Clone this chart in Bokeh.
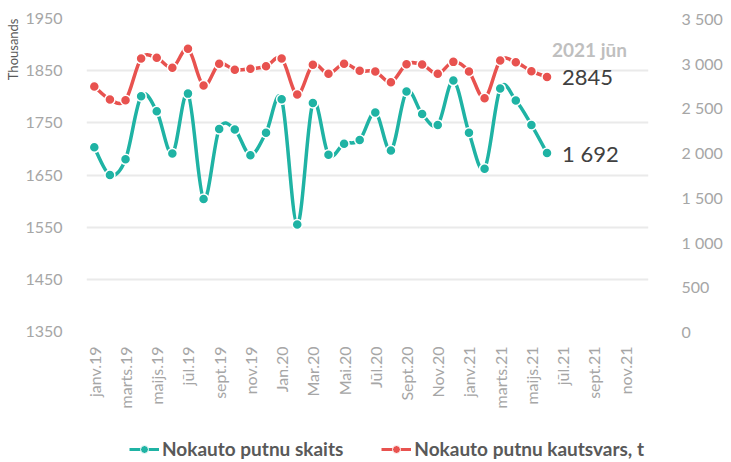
import numpy as np
from bokeh.plotting import figure
from bokeh.layouts import column
from bokeh.models import (Range1d, LinearAxis, FixedTicker, Legend, LegendItem, Label, Title)
from bokeh.embed import file_html
from bokeh.resources import INLINE

# ---- data ----
tick_labels = ["janv.19", "marts.19", "maijs.19", "jūl.19", "sept.19", "nov.19",
               "Jan.20", "Mar.20", "Mai.20", "Jūl.20", "Sept.20", "Nov.20",
               "janv.21", "marts.21", "maijs.21", "jūl.21", "sept.21", "nov.21"]
n_months_axis = 36  # janv.19 .. dec.21
birds_thousands = [1703, 1650, 1680, 1801, 1772, 1691, 1806, 1604, 1738, 1737,
                   1688, 1731, 1795, 1555, 1788, 1689, 1710, 1717, 1770, 1697,
                   1810, 1767, 1746, 1831, 1731, 1662, 1816, 1793, 1746, 1692]
weight_t = [2739, 2594, 2586, 3052, 3060, 2948, 3161, 2750, 2993, 2926,
            2937, 2966, 3052, 2650, 2982, 2881, 2993, 2915, 2907, 2787,
            2989, 2985, 2881, 3015, 2907, 2608, 3030, 3011, 2911, 2845]
left_ticks = [1350, 1450, 1550, 1650, 1750, 1850, 1950]
right_ticks = [0, 500, 1000, 1500, 2000, 2500, 3000, 3500]
right_tick_labels = ["0", "500", "1 000", "1 500", "2 000", "2 500", "3 000", "3 500"]
last_label = "2021 jūn"
birds_last_text = "1 692"
weight_last_text = "2845"
series_names = ["Nokauto putnu skaits", "Nokauto putnu kautsvars, t"]

TEAL = "#1FB3A4"
RED = "#E8524F"
FONT = "Lato"
W = 725
BL, BR = 85, 70

x = list(range(len(birds_thousands)))


def smooth_segments(xs, ys):
    """Bezier segments through every data point (Excel-style smoothed line)."""
    xs = np.asarray(xs, float)
    ys = np.asarray(ys, float)
    n = len(xs)
    xp = np.concatenate([[xs[0]], xs, [xs[-1]]])
    yp = np.concatenate([[ys[0]], ys, [ys[-1]]])
    i = np.arange(n - 1) + 1
    return dict(x0=xp[i], y0=yp[i], x1=xp[i + 1], y1=yp[i + 1],
                cx0=xp[i] + (xp[i + 1] - xp[i - 1]) / 6,
                cy0=yp[i] + (yp[i + 1] - yp[i - 1]) / 6,
                cx1=xp[i + 1] - (xp[i + 2] - xp[i]) / 6,
                cy1=yp[i + 1] - (yp[i + 2] - yp[i]) / 6)


p = figure(width=W, height=420, output_backend="svg", toolbar_location=None,
           x_range=Range1d(-0.5, n_months_axis - 0.5),
           y_range=Range1d(left_ticks[0], left_ticks[-1]),
           min_border_left=BL, min_border_right=BR, min_border_top=18,
           min_border_bottom=420 - 331)
p.outline_line_color = None
p.background_fill_color = "white"
p.border_fill_color = "white"

p.extra_y_ranges = {"w": Range1d(right_ticks[0], right_ticks[-1])}

# grid
p.xgrid.grid_line_color = None
p.ygrid.grid_line_color = "#EAEAEA"
p.ygrid.grid_line_width = 2
p.yaxis.ticker = FixedTicker(ticks=left_ticks)

# left axis
ya = p.yaxis[0]
ya.axis_line_color = None
ya.major_tick_line_color = None
ya.minor_tick_line_color = None
ya.major_label_text_font = FONT
ya.major_label_text_font_size = "16px"
ya.major_label_text_color = "#A6A6A6"
ya.major_label_standoff = 18

# right axis
ra = LinearAxis(y_range_name="w", ticker=FixedTicker(ticks=right_ticks))
ra.major_label_overrides = {t: l for t, l in zip(right_ticks, right_tick_labels)}
ra.axis_line_color = None
ra.major_tick_line_color = None
ra.minor_tick_line_color = None
ra.major_label_text_font = FONT
ra.major_label_text_font_size = "16px"
ra.major_label_text_color = "#A6A6A6"
ra.major_label_standoff = 27
p.add_layout(ra, "right")

# "Thousands" unit label at the top of the left side
p.add_layout(Title(text="Thousands", align="right", text_font=FONT, text_font_size="13px",
                   text_font_style="normal", text_color="#595959", standoff=4), "left")

# x axis
xa = p.xaxis[0]
xt = list(range(0, n_months_axis - 1, 2))
xa.ticker = FixedTicker(ticks=xt)
xa.major_label_overrides = {t: l for t, l in zip(xt, tick_labels)}
xa.major_label_orientation = np.pi / 2
xa.axis_line_color = None
xa.major_tick_line_color = None
xa.minor_tick_line_color = None
xa.major_label_text_font = FONT
xa.major_label_text_font_size = "16px"
xa.major_label_text_color = "#A6A6A6"
xa.major_label_standoff = 9

# series (smoothed lines through the data points, plus markers)
sb = smooth_segments(x, birds_thousands)
p.bezier(line_color=TEAL, line_width=3.5, **sb)
p.scatter(x, birds_thousands, size=10, fill_color=TEAL, line_color="white", line_width=1.5)
sw = smooth_segments(x, weight_t)
p.bezier(line_color=RED, line_width=3.5, y_range_name="w", **sw)
p.scatter(x, weight_t, size=10, fill_color=RED, line_color="white", line_width=1.5, y_range_name="w")

# labels
p.add_layout(Label(x=x[-1], y=birds_thousands[-1], text=birds_last_text, x_offset=15,
                   text_baseline="middle", text_font=FONT, text_font_size="22px",
                   text_color="#404040"))
p.add_layout(Label(x=x[-1], y=weight_t[-1], text=weight_last_text, x_offset=15, y_range_name="w",
                   text_baseline="middle", text_font=FONT, text_font_size="22px",
                   text_color="#404040"))
p.add_layout(Label(x=x[-1], y=3153, text=last_label, x_offset=5, y_range_name="w",
                   text_baseline="middle", text_font=FONT, text_font_size="19px",
                   text_font_style="bold", text_color="#BFBFBF"))

# ---- legend strip (same frame as the chart) ----
lg = figure(width=W, height=40, output_backend="svg", toolbar_location=None,
            x_range=Range1d(0, 1), y_range=Range1d(0, 1),
            x_axis_location=None, y_axis_location=None,
            min_border_left=BL, min_border_right=BR, min_border_top=0, min_border_bottom=0)
lg.grid.grid_line_color = None
lg.outline_line_color = None
lg.background_fill_color = "white"
lg.border_fill_color = "white"
# series drawn out of this strip's view; only their legend swatches show
ll1 = lg.line(x, birds_thousands, line_color=TEAL, line_width=3)
ls1 = lg.scatter(x, birds_thousands, size=8, fill_color=TEAL, line_color="white", line_width=1)
ll2 = lg.line(x, weight_t, line_color=RED, line_width=3)
ls2 = lg.scatter(x, weight_t, size=8, fill_color=RED, line_color="white", line_width=1)
legend = Legend(items=[LegendItem(label=series_names[0], renderers=[ll1, ls1]),
                       LegendItem(label=series_names[1], renderers=[ll2, ls2])],
                orientation="horizontal", location=(128 - BL, 0))
legend.label_text_font = FONT
legend.label_text_font_size = "19px"
legend.label_text_font_style = "bold"
legend.label_text_color = "#595959"
legend.border_line_color = None
legend.background_fill_alpha = 0
legend.glyph_width = 30
legend.label_standoff = 3
legend.spacing = 38
legend.padding = 2
legend.margin = 0
lg.add_layout(legend, "center")

open("out.html", "w").write(file_html(column(p, lg, spacing=0), INLINE))
